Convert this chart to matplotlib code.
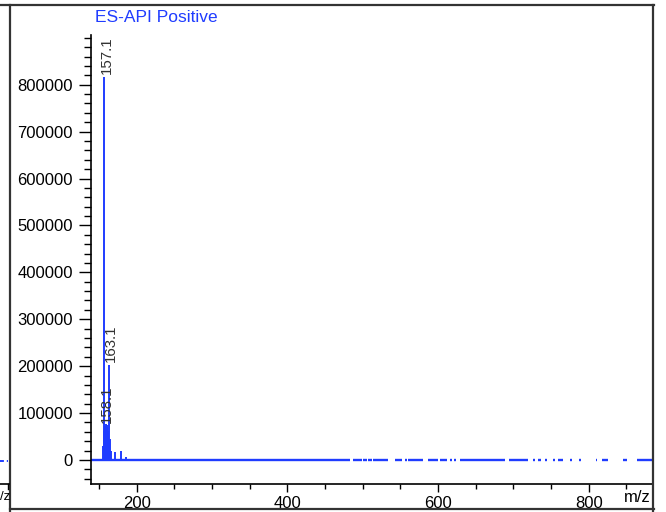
import matplotlib
matplotlib.use("Agg")
import matplotlib.pyplot as plt
from matplotlib.lines import Line2D
from matplotlib.ticker import MultipleLocator

plt.rcParams['font.family'] = ['Liberation Sans', 'DejaVu Sans']

# ---- data ----
title = "ES-API Positive"
peak_mz = [155.1, 156.1, 157.1, 158.1, 159.1, 160.1, 161.1, 162.1, 163.1, 164.1,
           165.6, 171.1, 179.1, 185.1, 387.1]
peak_int = [30000, 62000, 817000, 72000, 76000, 74000, 70000, 62000, 203000, 45000,
            19800, 16400, 19000, 6400, 3000]
label_mz = [157.1, 158.1, 163.1]
label_int = [817000, 72000, 203000]
label_text = ["157.1", "158.1", "163.1"]
# m/z ranges where the baseline trace is present
base_start = [139, 487, 500, 507, 514, 543, 556, 560, 587, 603, 616, 621, 629, 694,
              726, 733, 742, 753, 759, 775, 787, 809, 818, 837, 845, 864]
base_end = [483, 499, 506, 512, 534, 552, 559, 580, 600, 612, 619, 624, 689, 720,
            729, 736, 745, 755, 766, 778, 790, 811, 825, 838, 851, 884]
x_ticks = [200, 400, 600, 800]
y_ticks = [0, 100000, 200000, 300000, 400000, 500000, 600000, 700000, 800000]

W, H = 666, 512
fig = plt.figure(figsize=(W / 100, H / 100), dpi=100)
ax = fig.add_axes([91 / W, 1 - 484 / H, (652 - 91) / W, (484 - 35) / H])

blue = '#1f3cff'
ax.hlines([0] * len(base_start), base_start, base_end, color=blue, lw=1.7)
ax.vlines(peak_mz, 0, peak_int, color=blue, lw=1.4)
for mz, it, t in zip(label_mz, label_int, label_text):
    ax.annotate(t, (mz, it), xytext=(1.5, 2), textcoords='offset points',
                rotation=90, ha='center', va='bottom', fontsize=10.8, color='#333333')

ax.set_xlim(139.3, 884)
ax.set_ylim(-51200, 906000)
ax.set_xticks(x_ticks)
ax.set_yticks(y_ticks)
ax.set_yticklabels([str(v) for v in y_ticks])
ax.xaxis.set_minor_locator(MultipleLocator(50))
ax.yaxis.set_minor_locator(MultipleLocator(20000))
ax.tick_params(axis='y', which='major', length=8.5, width=1.0, pad=4.5, labelsize=12)
ax.tick_params(axis='y', which='minor', length=5, width=1.0)
ax.tick_params(axis='x', which='major', length=6, width=1.0, pad=2.5, labelsize=12)
ax.tick_params(axis='x', which='minor', length=3.6, width=1.0)
for s in ['top', 'right']:
    ax.spines[s].set_visible(False)
for s in ['left', 'bottom']:
    ax.spines[s].set_linewidth(1.2)
ax.patch.set_alpha(0)
fig.text(651 / W, 1 - 497 / H, "m/z", ha='right', va='center', fontsize=12)

fig.text(95 / W, 1 - 17 / H, title, ha='left', va='center', fontsize=12.5, color=blue)

# outer frame
def fline(x0, y0, x1, y1, **kw):
    fig.add_artist(Line2D([x0 / W, x1 / W], [1 - y0 / H, 1 - y1 / H],
                          transform=fig.transFigure, **kw))

fc = '#333333'
fline(0, 5, 654, 5, color=fc, lw=1.6)
fline(653, 5, 653, 512, color=fc, lw=1.6)
fline(10, 5, 10, 512, color=fc, lw=1.6)
fline(10, 508.5, 654, 508.5, color=fc, lw=1.6)
# sliver of neighbouring panel
fline(0, 461, 8, 461, color=blue, lw=1.4, ls=(0, (2, 1.5)))
fline(0, 484, 9, 484, color='black', lw=1.2)
fline(8, 484, 8, 489, color='black', lw=1.0)
fig.text(0.5 / W, 1 - 497 / H, "/z", ha='left', va='center', fontsize=9.5)

fig.savefig("out.png", dpi=100)
